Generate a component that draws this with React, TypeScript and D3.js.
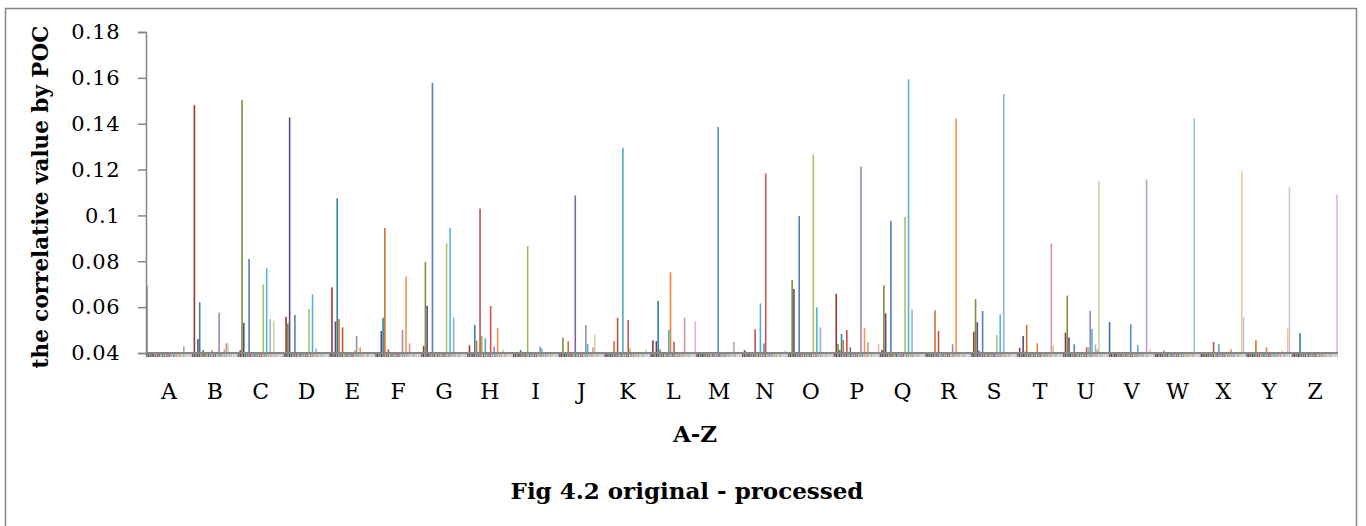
import React, { useEffect, useRef } from 'react';
import * as d3 from 'd3';

const letters = 'ABCDEFGHIJKLMNOPQRSTUVWXYZ'.split('');
const yTicks = [0.04, 0.06, 0.08, 0.1, 0.12, 0.14, 0.16, 0.18];

// one colour per series (26 series, one per letter)
const seriesColors = [
  '#3f6ea6', '#953735', '#76923c', '#5f497a', '#31859c', '#cc7333',
  '#4f81bd', '#c0504d', '#9bbb59', '#8064a2', '#4bacc6', '#e8823b',
  '#558ed5', '#d25552', '#a6c46a', '#9e86c0', '#4fb8d3', '#f9954a',
  '#95b3d7', '#d99694', '#c3d69b', '#b3a2c7', '#93cddd', '#fac090',
  '#b9cde5', '#e6b9b8',
];

// values per category, index = series
const valA = [0.0692,0.04,0.04,0.04,0.04,0.04, 0.04,0.04,0.04,0.04,0.04,0.04, 0.04,0.04,0.04,0.04,0.04,0.04, 0.04,0.04,0.04,0.043,0.04,0.04, 0.04,0.04];
const valB = [0.04,0.1481,0.04,0.046,0.0621,0.04, 0.0413,0.04,0.04,0.04,0.04,0.0413, 0.04,0.04,0.04,0.0576,0.04,0.04, 0.0417,0.0442,0.0442,0.04,0.04,0.04, 0.04,0.04];
const valC = [0.04,0.0412,0.1504,0.0532,0.04,0.04, 0.081,0.04,0.04,0.04,0.04,0.04, 0.04,0.04,0.0699,0.04,0.0769,0.04, 0.0548,0.04,0.0541,0.04,0.04,0.04, 0.04,0.04];
const valD = [0.04,0.0558,0.0529,0.1427,0.04,0.04, 0.0566,0.04,0.04,0.04,0.04,0.04, 0.04,0.04,0.0592,0.04,0.0656,0.04, 0.0419,0.04,0.04,0.04,0.04,0.04, 0.04,0.04];
const valE = [0.04,0.0686,0.04,0.0537,0.1075,0.0548, 0.04,0.0512,0.04,0.04,0.04,0.04, 0.04,0.04,0.0413,0.0474,0.04,0.0425, 0.04,0.04,0.04,0.04,0.04,0.04, 0.04,0.04];
const valF = [0.04,0.04,0.04,0.0496,0.0554,0.0945, 0.04,0.0416,0.04,0.04,0.04,0.04, 0.0401,0.04,0.04,0.05,0.04,0.0733, 0.04,0.0442,0.04,0.04,0.04,0.04, 0.04,0.04];
const valG = [0.04,0.043,0.0797,0.0606,0.04,0.04, 0.1578,0.04,0.04,0.04,0.04,0.04, 0.04,0.04,0.0878,0.04,0.0945,0.04, 0.0556,0.04,0.04,0.04,0.04,0.04, 0.04,0.04];
const valH = [0.04,0.0433,0.04,0.04,0.0522,0.0454, 0.04,0.103,0.0475,0.04,0.0464,0.04, 0.04,0.0605,0.04,0.0428,0.04,0.0508, 0.04,0.04,0.0416,0.04,0.04,0.04, 0.04,0.04];
const valI = [0.04,0.04,0.04,0.04,0.0413,0.04, 0.04,0.04,0.0866,0.04,0.04,0.04, 0.04,0.04,0.04,0.0428,0.042,0.04, 0.04,0.04,0.04,0.04,0.04,0.04, 0.04,0.04];
const valJ = [0.04,0.04,0.0467,0.04,0.04,0.0452, 0.04,0.04,0.04,0.1087,0.04,0.04, 0.04,0.04,0.04,0.0522,0.0439,0.04, 0.04,0.0425,0.0478,0.04,0.04,0.04, 0.04,0.04];
const valK = [0.04,0.04,0.04,0.04,0.04,0.0452, 0.04,0.0554,0.04,0.04,0.1295,0.04, 0.04,0.0544,0.042,0.0402,0.04,0.04, 0.04,0.04,0.04,0.04,0.04,0.0416, 0.04,0.04];
const valL = [0.04,0.0455,0.04,0.0452,0.0628,0.0416, 0.04,0.0404,0.04,0.04,0.05,0.0752, 0.04,0.0449,0.04,0.04,0.04,0.04, 0.04,0.0554,0.04,0.04,0.04,0.04, 0.04,0.0539];
const valM = [0.0402,0.04,0.04,0.04,0.04,0.04, 0.04,0.04,0.04,0.04,0.04,0.04, 0.1386,0.04,0.04,0.04,0.04,0.04, 0.04,0.04,0.04,0.0449,0.04,0.04, 0.04,0.04];
const valN = [0.04,0.0412,0.0406,0.04,0.04,0.04, 0.04,0.0503,0.04,0.04,0.0616,0.04, 0.0442,0.1183,0.04,0.04,0.04,0.04, 0.04,0.04,0.04,0.04,0.04,0.04, 0.041,0.04];
const valO = [0.04,0.04,0.0719,0.0679,0.04,0.04, 0.0997,0.04,0.04,0.04,0.04,0.04, 0.04,0.04,0.1266,0.04,0.0599,0.04, 0.0512,0.04,0.04,0.04,0.04,0.04, 0.04,0.04];
const valP = [0.04,0.0658,0.0439,0.0412,0.0483,0.0457, 0.04,0.05,0.04,0.0425,0.04,0.04, 0.04,0.04,0.04,0.1213,0.04,0.051, 0.04,0.0448,0.04,0.04,0.04,0.04, 0.04,0.0438];
const valQ = [0.04,0.0413,0.0695,0.0573,0.04,0.04, 0.0976,0.04,0.04,0.04,0.04,0.04, 0.04,0.04,0.0993,0.04,0.1594,0.04, 0.059,0.04,0.04,0.04,0.04,0.04, 0.04,0.04];
const valR = [0.04,0.04,0.04,0.04,0.04,0.0586, 0.04,0.0496,0.04,0.04,0.04,0.04, 0.04,0.04,0.04,0.0438,0.04,0.1423, 0.04,0.04,0.04,0.04,0.04,0.04, 0.04,0.04];
const valS = [0.04,0.0493,0.0635,0.0534,0.041,0.04, 0.0583,0.04,0.04,0.04,0.04,0.04, 0.04,0.04,0.0478,0.04,0.0569,0.04, 0.153,0.04,0.04,0.04,0.04,0.04, 0.04,0.04];
const valT = [0.04,0.0423,0.04,0.0474,0.0406,0.0522, 0.04,0.04,0.04,0.04,0.04,0.0442, 0.04,0.04,0.04,0.04,0.04,0.04, 0.04,0.0878,0.0435,0.04,0.0406,0.04, 0.04,0.04];
const valU = [0.04,0.0489,0.065,0.0468,0.04,0.04, 0.0438,0.04,0.04,0.04,0.04,0.04, 0.04,0.0425,0.0425,0.0584,0.0505,0.04, 0.0438,0.0416,0.1151,0.04,0.04,0.04, 0.04,0.04];
const valV = [0.0535,0.04,0.04,0.04,0.04,0.04, 0.04,0.04,0.04,0.04,0.04,0.04, 0.0525,0.04,0.04,0.04,0.0435,0.04, 0.04,0.04,0.04,0.1157,0.04,0.0417, 0.04,0.04];
const valW = [0.04,0.04,0.04,0.04,0.04,0.0411, 0.04,0.04,0.04,0.04,0.04,0.04, 0.04,0.04,0.04,0.04,0.04,0.04, 0.04,0.04,0.04,0.04,0.1425,0.04, 0.04,0.04];
const valX = [0.04,0.04,0.04,0.04,0.04,0.04, 0.04,0.0448,0.04,0.04,0.0438,0.04, 0.04,0.0401,0.04,0.04,0.0406,0.0417, 0.04,0.04,0.04,0.04,0.04,0.1192, 0.0556,0.04];
const valY = [0.04,0.04,0.04,0.04,0.04,0.0455, 0.04,0.04,0.04,0.04,0.04,0.0425, 0.04,0.04,0.04,0.04,0.04,0.04, 0.04,0.04,0.041,0.04,0.04,0.0508, 0.1123,0.04];
const valZ = [0.04,0.04,0.04,0.04,0.0486,0.04, 0.04,0.04,0.04,0.04,0.04,0.04, 0.04,0.04,0.04,0.04,0.04,0.04, 0.04,0.04,0.04,0.04,0.04,0.04, 0.04,0.1092];

const rows = [valA, valB, valC, valD, valE, valF, valG, valH, valI, valJ, valK, valL, valM,
  valN, valO, valP, valQ, valR, valS, valT, valU, valV, valW, valX, valY, valZ];

const App = () => {
  const svgRef = useRef<SVGSVGElement>(null);

  useEffect(() => {
    const svg = d3.select(svgRef.current);
    svg.selectAll('*').remove();

    const left = 146, right = 1338, top = 32, bottom = 353;
    const font = '"DejaVu Serif", serif';
    const grey = '#868686';

    // outer frame
    svg.append('rect')
      .attr('x', 5.5).attr('y', 8.5)
      .attr('width', 1351).attr('height', 540)
      .attr('fill', '#fff').attr('stroke', grey).attr('stroke-width', 1.5);

    const x0 = d3.scaleBand().domain(letters).range([left, right]);
    const x1 = d3.scaleBand<number>().domain(d3.range(seriesColors.length)).range([0, x0.bandwidth()]);
    const y = d3.scaleLinear().domain([0.04, 0.18]).range([bottom, top]);

    const bars = svg.append('g');
    rows.forEach((vals, c) => {
      bars.selectAll(null)
        .data(vals)
        .enter().append('rect')
        .attr('x', (d, s) => x0(letters[c])! + x1(s)!)
        .attr('width', x1.bandwidth() * 0.9)
        .attr('y', d => y(d))
        .attr('height', d => y(0.04) - y(d) + 4)
        .attr('fill', (d, s) => seriesColors[s]);
    });

    // baseline
    svg.append('line')
      .attr('x1', left).attr('x2', right)
      .attr('y1', y(0.04)).attr('y2', y(0.04))
      .attr('stroke', grey).attr('stroke-width', 2);

    const yAxis = svg.append('g')
      .attr('transform', `translate(${left},0)`)
      .call(d3.axisLeft(y).tickValues(yTicks).tickSize(8).tickPadding(18).tickFormat(d => String(d)));
    yAxis.selectAll('path, line').attr('stroke', grey).attr('stroke-width', 1.5);
    yAxis.selectAll('text')
      .attr('fill', '#000')
      .style('font-family', font)
      .style('font-size', '21px')
      .style('letter-spacing', '0.5px');

    svg.append('g').selectAll('text')
      .data(letters)
      .enter().append('text')
      .attr('x', d => x0(d)! + x0.bandwidth() / 2)
      .attr('y', 399)
      .attr('text-anchor', 'middle')
      .style('font-family', font)
      .style('font-size', '22px')
      .text(d => d);

    svg.append('text')
      .attr('x', 695).attr('y', 442)
      .attr('text-anchor', 'middle')
      .style('font-family', font).style('font-size', '23px').style('font-weight', 'bold')
      .text('A-Z');

    svg.append('text')
      .attr('transform', 'translate(48,197) rotate(-90)')
      .attr('text-anchor', 'middle')
      .style('font-family', font).style('font-size', '21.5px').style('font-weight', 'bold')
      .text('the correlative value by POC');

    svg.append('text')
      .attr('x', 687).attr('y', 499)
      .attr('text-anchor', 'middle')
      .style('font-family', font).style('font-size', '23px').style('font-weight', 'bold')
      .text('Fig 4.2 original - processed');
  }, []);

  return (
    <svg ref={svgRef} width={1366} height={526} style={{ position: 'absolute', left: 0, top: 0 }}></svg>
  );
};

export default App;
